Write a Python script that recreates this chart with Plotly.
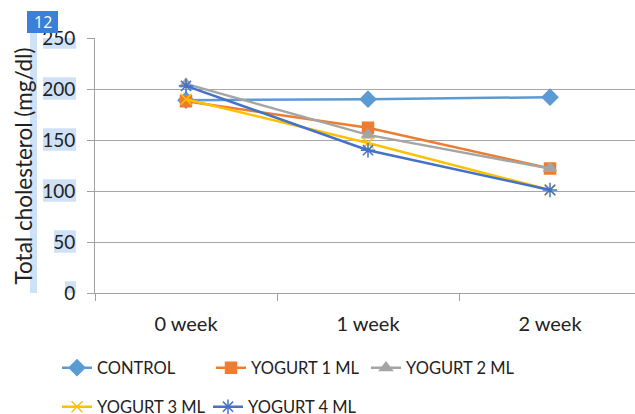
import plotly.graph_objects as go

categories = ["0 week", "1 week", "2 week"]
control = [189, 190, 192]
yogurt1 = [188, 162, 122]
yogurt2 = [205, 155, 122]
yogurt3 = [190, 147, 101]
yogurt4 = [203, 140, 101]
y_ticks = [0, 50, 100, 150, 200, 250]

series = [
    ("CONTROL", control, "#5b9bd5", "diamond", 12),
    ("YOGURT 1 ML", yogurt1, "#ed7d31", "square", 11),
    ("YOGURT 2 ML", yogurt2, "#a5a5a5", "triangle-up", 11),
    ("YOGURT 3 ML", yogurt3, "#ffc000", "x-thin-open", 11),
    ("YOGURT 4 ML", yogurt4, "#4472c4", "asterisk-open", 12),
]
# legend entry positions (line-sample start px, row centre px)
legend_pos = [(61, 368), (215, 368), (370, 368), (61, 407), (212, 407)]

FONT = "Lato"
TXT = "#222222"
fig = go.Figure()
legend_ids = ["legend", "legend2", "legend3", "legend4", "legend5"]
for (name, vals, col, sym, size), lg in zip(series, legend_ids):
    fig.add_trace(go.Scatter(
        x=categories, y=vals, name=name, mode="lines+markers",
        line=dict(color=col, width=2.5),
        marker=dict(symbol=sym, size=size, color=col,
                    line=dict(color=col, width=1.5)),
        legend=lg,
    ))

PL, PW, PB, PH = 95, 540, 293, 255  # plot-area pixel geometry
def px(xp):
    return (xp - PL) / PW
def py(yp):
    return (PB - yp) / PH

# highlight boxes behind tick labels
shapes = []
HL = "#cfe1f6"
for v in y_ticks:
    nd = len(str(v))
    left_px = 76 - 11 * nd
    shapes.append(dict(type="rect", xref="paper", yref="y",
                       x0=px(left_px), x1=px(76),
                       y0=v - 10.5, y1=v + 11.5,
                       fillcolor=HL, line=dict(width=0), layer="below"))
shapes.append(dict(type="rect", xref="paper", yref="paper",
                   x0=px(30), x1=px(37), y0=0, y1=py(30),
                   fillcolor=HL, line=dict(width=0), layer="below"))
# badge
shapes.append(dict(type="rect", xref="paper", yref="paper",
                   x0=px(27), x1=px(58), y0=py(33), y1=py(11),
                   fillcolor="#3a7fd9", line=dict(width=0), layer="above"))

legends = {}
for lg, (lx, ly) in zip(legend_ids, legend_pos):
    legends[lg] = dict(orientation="h", x=px(lx - 4), y=py(ly),
                       xanchor="left", yanchor="middle",
                       bgcolor="rgba(0,0,0,0)",
                       font=dict(family=FONT, size=16.5, color=TXT))

fig.update_layout(
    width=635, height=414,
    margin=dict(l=95, r=0, t=38, b=121, autoexpand=False),
    paper_bgcolor="white", plot_bgcolor="white",
    font=dict(family=FONT, size=17, color=TXT),
    showlegend=True,
    shapes=shapes,
    xaxis=dict(
        type="category", range=[-0.5, 2.467],
        showgrid=False, showline=True, linecolor="#a0a0a0", linewidth=1,
        ticks="outside", ticklen=7, tickcolor="#a0a0a0", tickson="boundaries",
        tickfont=dict(family=FONT, size=20, color=TXT),
        ticklabelstandoff=13,
    ),
    yaxis=dict(
        range=[0, 250], tickvals=y_ticks,
        showgrid=True, gridcolor="#a6a6a6", gridwidth=1,
        showline=True, linecolor="#a0a0a0", linewidth=1,
        ticks="outside", ticklen=7, tickcolor="#a0a0a0",
        zeroline=False,
        tickfont=dict(family=FONT, size=19, color=TXT),
        ticklabelstandoff=8,
    ),
    annotations=[
        dict(text="Total cholesterol (mg/dl)", textangle=-90,
             xref="paper", yref="paper", x=px(22.5), y=py(166),
             xanchor="center", yanchor="middle", showarrow=False,
             font=dict(family=FONT, size=22.5, color=TXT)),
        dict(text="12", xref="paper", yref="paper",
             x=px(42.5), y=py(22),
             xanchor="center", yanchor="middle", showarrow=False,
             font=dict(family="Open Sans", size=16, color="white")),
    ],
    **legends,
)

fig.write_html("out.html",
               config={"displayModeBar": False},
               post_script="document.body.style.margin='0';"
                           "document.body.style.overflow='hidden';")
